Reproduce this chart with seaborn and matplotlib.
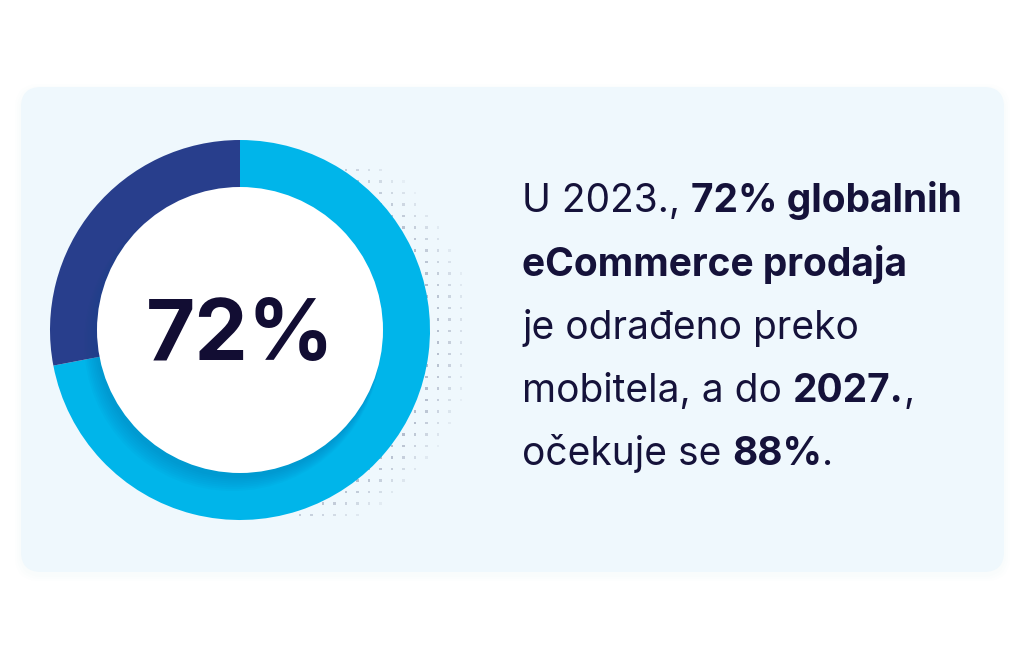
import numpy as np
import matplotlib.pyplot as plt
import seaborn as sns
from matplotlib.patches import FancyBboxPatch, Circle

# --- data ---
share_labels = ["Mobitel", "Ostalo"]
share_values = [72, 28]
share_colors = ["#00B5EA", "#283E8C"]
center_label = "72%"

# text lines, each a list of (segment, bold?)
text_lines = [
    [("U 2023., ", False), ("72% globalnih", True)],
    [("eCommerce prodaja", True)],
    [("je odrađeno preko", False)],
    [("mobitela, a do ", False), ("2027.", True), (",", False)],
    [("očekuje se ", False), ("88%", True), (".", False)],
]

W, H = 1024, 660
TEXT_COLOR = "#15123A"
BG_COLOR = "#EFF8FD"
FONT = "Inter"

sns.set_theme(style="white")
plt.rcParams["font.family"] = [FONT, "DejaVu Sans"]

fig = plt.figure(figsize=(W / 100, H / 100), dpi=100)
fig.patch.set_facecolor("white")

# background card
bg = fig.add_axes([0, 0, 1, 1])
bg.set_xlim(0, W)
bg.set_ylim(H, 0)
bg.axis("off")
for i, a in enumerate([0.008, 0.007, 0.006]):
    pad = 6 - 2 * i
    bg.add_patch(FancyBboxPatch((21 - pad, 87 - pad + 3), 983 + 2 * pad, 485 + 2 * pad,
                                boxstyle="round,pad=0,rounding_size=24",
                                fc="#4080B0", ec="none", alpha=a))
bg.add_patch(FancyBboxPatch((21, 87), 983, 485, boxstyle="round,pad=0,rounding_size=20",
                            fc=BG_COLOR, ec="none"))

# halftone dots behind the ring
gx, gy = np.meshgrid(np.arange(300, 480, 11.5), np.arange(170, 520, 11.5))
gx, gy = gx.ravel(), gy.ravel()
d = np.hypot(gx - 265, gy - 335)
keep = (d < 207) & (np.hypot(gx - 240, gy - 330) > 185)
fade = np.clip((207 - d[keep]) / 35, 0, 1)
cols = np.zeros((keep.sum(), 4))
cols[:, :3] = [0.50, 0.54, 0.64]
cols[:, 3] = 0.08 + 0.45 * fade
bg.scatter(gx[keep], gy[keep], s=4, c=cols, marker="s", linewidths=0)

# donut
cx, cy, R = 240, 330, 190
half = 205
ax = fig.add_axes([(cx - half) / W, (H - cy - half) / H, 2 * half / W, 2 * half / H])
ax.pie(share_values, colors=share_colors, startangle=90, counterclock=False,
       radius=1, wedgeprops=dict(width=1, linewidth=0))
ax.set_xlim(-half / R, half / R)
ax.set_ylim(-half / R, half / R)
ax.set_aspect("equal")
ax.axis("off")
rin = 143 / R
# soft shadow of the inner disc on the ring
for k in range(8):
    ax.add_patch(Circle((-0.012 - 0.004 * k, -0.025 - 0.006 * k), rin + 0.004 * k,
                        fc="#0A4A8A", ec="none", alpha=0.03))
ax.add_patch(Circle((0, 0), rin, fc="white", ec="none"))
ax.text(0, -0.04, center_label, ha="center", va="center", fontsize=61,
        fontweight="bold", color="#120D33")

# paragraph with mixed weights
r = fig.canvas.get_renderer()


def seg_width(s, bold, size):
    t1 = fig.text(0, 0, s + "|", fontsize=size, fontweight="bold" if bold else "normal")
    t2 = fig.text(0, 0, "|", fontsize=size, fontweight="bold" if bold else "normal")
    w = t1.get_window_extent(r).width - t2.get_window_extent(r).width
    t1.remove()
    t2.remove()
    return w


size = 28
baselines = [212, 276, 339, 402, 465]
x0 = 522
for line, base in zip(text_lines, baselines):
    x = x0
    for seg, bold in line:
        fig.text(x / W, 1 - base / H, seg, fontsize=size, color=TEXT_COLOR,
                 fontweight="bold" if bold else "normal", va="baseline", ha="left")
        x += seg_width(seg, bold, size)

fig.savefig("out.png", dpi=100, facecolor="white")
